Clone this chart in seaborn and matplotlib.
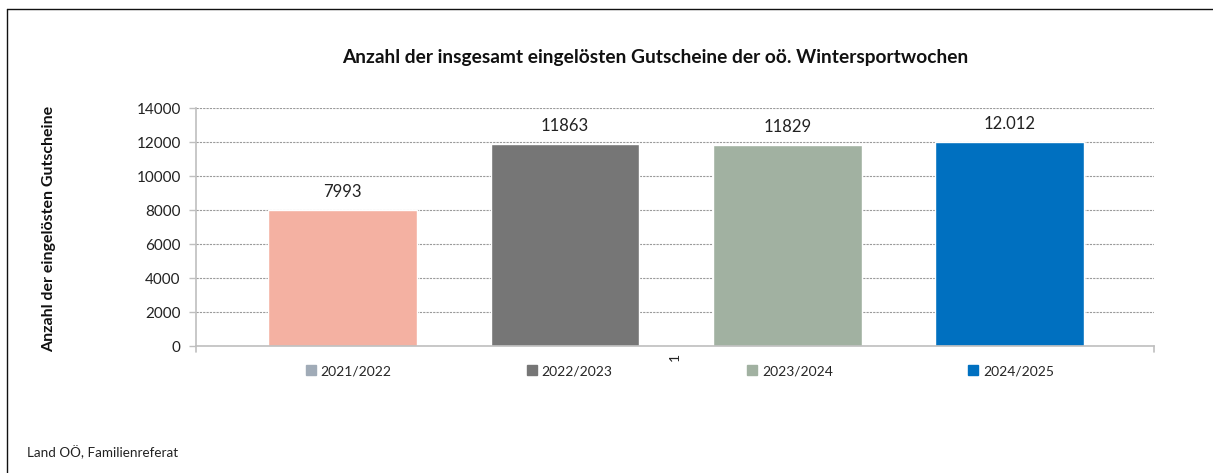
"""
Wintersportwochen - eingeloeste Gutscheine (bar chart)
"""

import numpy as np
import pandas as pd
import matplotlib.pyplot as plt
import seaborn as sns
from matplotlib.lines import Line2D

# -----------------------------
# Data
# -----------------------------
seasons = ["2021/2022", "2022/2023", "2023/2024", "2024/2025"]
vouchers = [7993, 11863, 11829, 12012]
value_labels = ["7993", "11863", "11829", "12.012"]
bar_colors = ["#F4B1A2", "#767676", "#A1B1A1", "#0070C0"]
legend_colors = ["#A0ABB7", "#767676", "#A1B1A1", "#0070C0"]
y_ticks = [0, 2000, 4000, 6000, 8000, 10000, 12000, 14000]

df = pd.DataFrame({"season": seasons, "count": vouchers})

# -----------------------------
# Figure
# -----------------------------
sns.set_theme(style="white")
plt.rcParams['font.family'] = ['Lato', 'DejaVu Sans']

fig = plt.figure(figsize=(12.13, 4.73), dpi=100)
ax = fig.add_axes([196 / 1213, 1 - 346 / 473, (1154 - 196) / 1213, (346 - 108) / 473])

sns.barplot(data=df, x="season", y="count", hue="season",
            palette=dict(zip(seasons, bar_colors)), width=0.67,
            saturation=1, legend=False, ax=ax)

ax.set_xlim(-0.66, 3.65)
ax.set_ylim(0, 14000)
ax.set_yticks(y_ticks)
ax.set_yticklabels([str(t) for t in y_ticks], fontsize=11, color="#222222")
ax.set_xticks([])
ax.set_xlabel("")
ax.set_ylabel("Anzahl der eingelösten Gutscheine", fontsize=11.5, fontweight="bold",
              color="#111111")
ax.yaxis.set_label_coords(-0.146, 0.49)

ax.grid(axis="y", linestyle=(0, (2, 1)), color="#9A9A9A", linewidth=0.8)
ax.set_axisbelow(True)
for side in ["top", "right"]:
    ax.spines[side].set_visible(False)
for side in ["left", "bottom"]:
    ax.spines[side].set_color("#BFBFBF")
    ax.spines[side].set_linewidth(1.2)
ax.tick_params(axis="y", which="both", left=True, length=5, width=1.0,
               color="#BFBFBF", pad=6)

# end ticks of the single category on the x axis
for xpos in [0, 1]:
    ax.plot([xpos, xpos], [0, -0.025], transform=ax.transAxes, color="#BFBFBF",
            linewidth=1.2, clip_on=False)

# value labels
for i, lab in enumerate(value_labels):
    ax.text(i, vouchers[i] + 600, lab, ha="center", va="bottom", fontsize=12,
            color="#222222")

# category label "1"
ax.text(0.5, -0.03, "1", transform=ax.transAxes, rotation=90,
        ha="center", va="top", fontsize=10, color="#222222")

# title
fig.text(655 / 1213, 1 - 57 / 473,
         "Anzahl der insgesamt eingelösten Gutscheine der oö. Wintersportwochen",
         ha="center", va="center", fontsize=13.8, fontweight="bold", color="#111111")

# legend
handles = [Line2D([0], [0], marker="s", linestyle="none", markersize=7,
                  markerfacecolor=c, markeredgecolor=c) for c in legend_colors]
fig.legend(handles, seasons, loc="center left", ncol=4, frameon=False,
           bbox_to_anchor=(305 / 1213, 1 - 371 / 473), fontsize=10,
           handlelength=0.8, handletextpad=0.3, columnspacing=9.7,
           borderpad=0, borderaxespad=0)

# source
fig.text(27 / 1213, 1 - 452 / 473, "Land OÖ, Familienreferat", fontsize=9.7,
         ha="left", va="center", color="#222222")

# frame lines (top and left of the chart area)
fig.add_artist(Line2D([7 / 1213, 1], [1 - 9 / 473, 1 - 9 / 473],
                      transform=fig.transFigure, color="#111111", linewidth=1.0))
fig.add_artist(Line2D([7 / 1213, 7 / 1213], [0, 1 - 9 / 473],
                      transform=fig.transFigure, color="#111111", linewidth=1.0))

plt.savefig("out.png", dpi=100)
plt.close()
